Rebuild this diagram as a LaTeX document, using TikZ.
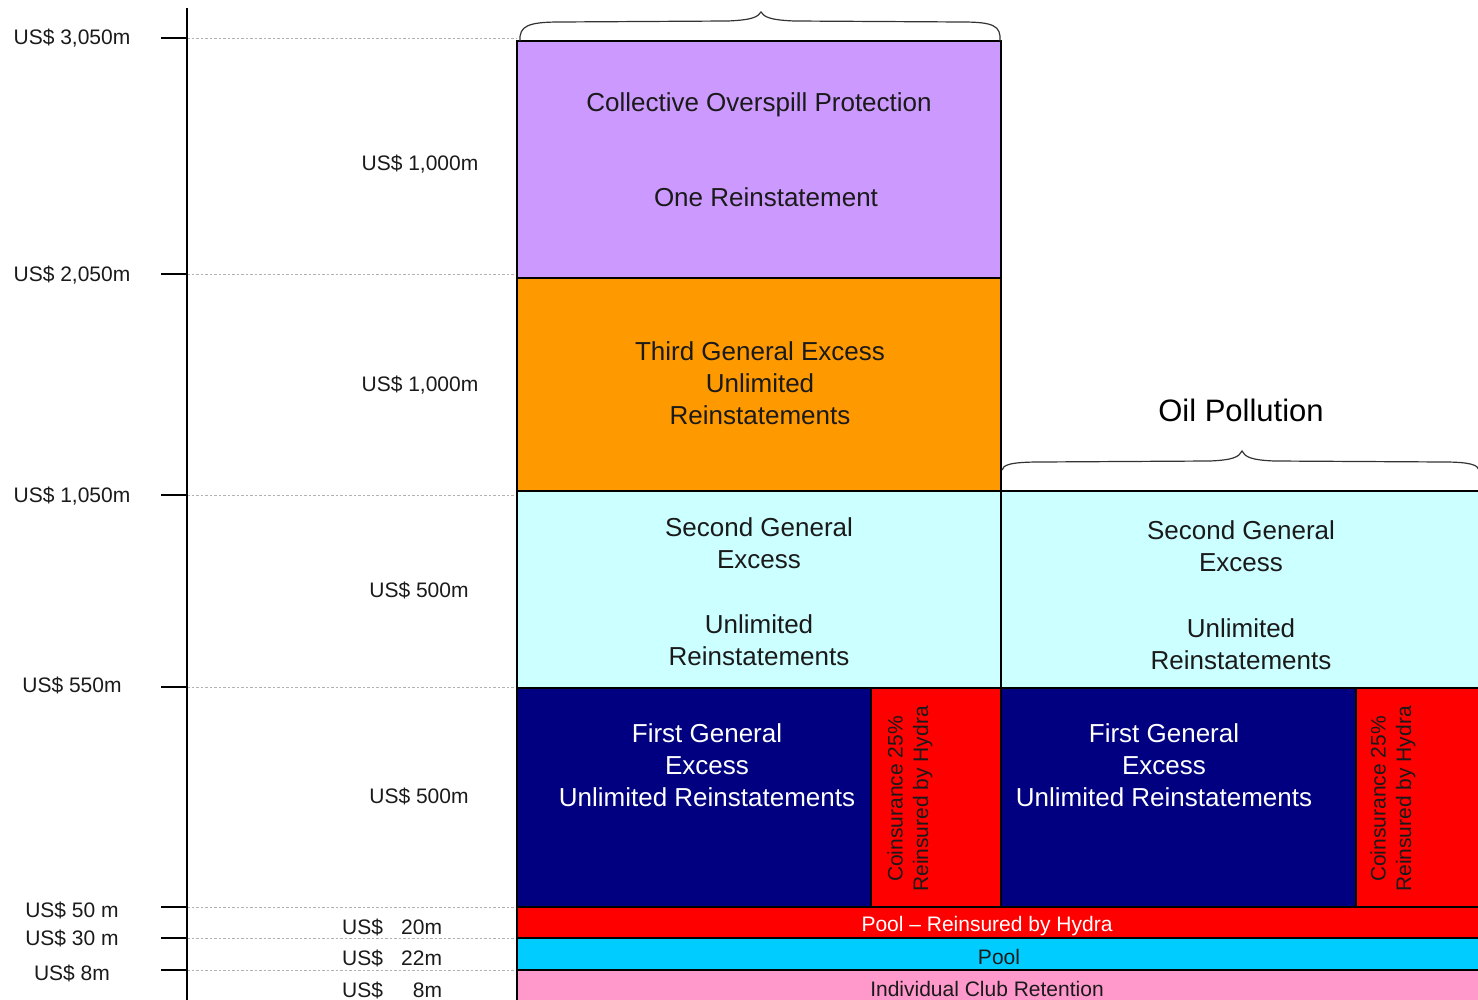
\documentclass[tikz,border=0pt]{standalone}
\usepackage{fontspec}
\setmainfont{Liberation Sans}
\definecolor{cpurple}{HTML}{CC99FF}
\definecolor{corange}{HTML}{FF9900}
\definecolor{ccyan}{HTML}{CCFFFF}
\definecolor{cnavy}{HTML}{000080}
\definecolor{cred}{HTML}{FF0000}
\definecolor{csky}{HTML}{00CCFF}
\definecolor{cpink}{HTML}{FF99CC}
\definecolor{ctext}{HTML}{1A1A1A}
\begin{document}
\begin{tikzpicture}[x=1pt,y=-1pt,
  layer/.style={draw=black, line width=2pt},
  lbl/.style={font=\fontsize{21}{25}\selectfont, text=ctext, inner sep=0pt},
  big/.style={font=\fontsize{26}{32}\selectfont, align=center, text=ctext, inner sep=0pt},
  rot/.style={font=\fontsize{21}{25.5}\selectfont, align=center, rotate=90, text=ctext, inner sep=0pt},
  bar/.style={font=\fontsize{21}{25}\selectfont, inner sep=0pt},
  tickmark/.style={line width=2pt},
  guide/.style={black!30, dash pattern=on 2.5pt off 2pt, line width=0.8pt},
  bracepath/.style={draw=black!80, line width=1.2pt}
]
\useasboundingbox (0,0) rectangle (1478,1000);

% guide lines
\foreach \yy in {38,274,495,687,907,938,970}{
  \draw[guide] (187,\yy) -- (517,\yy);
  \draw[tickmark] (161,\yy) -- (187,\yy);
}
% axis
\coordinate (axtop) at (187,8);
\coordinate (axbot) at (187,1000);
\draw[line width=2pt] (axtop) -- (axbot);

% layers
\filldraw[layer, fill=cpurple] (517,41) rectangle (1001,278);
\filldraw[layer, fill=corange] (517,278) rectangle (1001,491);
\filldraw[layer, fill=ccyan] (517,491) rectangle (1001,688);
\filldraw[layer, fill=ccyan] (1001,491) rectangle (1479,688);
\filldraw[layer, fill=cnavy] (517,688) rectangle (871,907);
\filldraw[layer, fill=cred] (871,688) rectangle (1001,907);
\filldraw[layer, fill=cnavy] (1001,688) rectangle (1356,907);
\filldraw[layer, fill=cred] (1356,688) rectangle (1479,907);
\filldraw[layer, fill=cred] (517,907) rectangle (1479,938);
\filldraw[layer, fill=csky] (517,938) rectangle (1479,970);
\filldraw[layer, fill=cpink] (517,970) rectangle (1479,1002);

% braces
\draw[bracepath] (520,41) .. controls (519,26) and (528,22) .. (560,22)
  -- (728,21) .. controls (752,20) and (758,17) .. (761,12)
  .. controls (764,17) and (770,20) .. (794,21)
  -- (962,22) .. controls (994,22) and (1001,26) .. (1000,41);
\draw[bracepath] (1002,470) .. controls (1003,465) and (1010,462) .. (1040,462)
  -- (1210,461) .. controls (1233,460) and (1239,457) .. (1242,451)
  .. controls (1245,457) and (1251,460) .. (1274,461)
  -- (1444,462) .. controls (1470,462) and (1478,465) .. (1479,470);

% left axis labels
\node[lbl] (l3050) at (72,38) {US\$ 3,050m};
\node[lbl] (l2050) at (72,275) {US\$ 2,050m};
\node[lbl] (l1050) at (72,496) {US\$ 1,050m};
\node[lbl] (l550) at (72,685) {US\$ 550m};
\node[lbl] (l50) at (72,910) {US\$ 50 m};
\node[lbl] (l30) at (72,938) {US\$ 30 m};
\node[lbl] (l8) at (72,973) {US\$ 8m};

% layer size labels
\node[lbl] (s1) at (420,164) {US\$ 1,000m};
\node[lbl] (s2) at (420,385) {US\$ 1,000m};
\node[lbl] (s3) at (419,590) {US\$ 500m};
\node[lbl] (s4) at (419,796) {US\$ 500m};
\node[lbl, anchor=west] (s5) at (342,927) {US\$\makebox[59pt][r]{20m}};
\node[lbl, anchor=west] (s6) at (342,958) {US\$\makebox[59pt][r]{22m}};
\node[lbl, anchor=west] (s7) at (342,990) {US\$\makebox[59pt][r]{8m}};

% box texts
\node[big] (cop) at (759,105) {Collective Overspill Protection};
\node[big] (one) at (766,197) {One Reinstatement};
\node[big] (third) at (760,383) {Third General Excess\\Unlimited\\Reinstatements};
\node[big] (sgA) at (759,543) {Second General\\Excess};
\node[big] (sgB) at (759,640) {Unlimited\\Reinstatements};
\node[big] (sgC) at (1241,546) {Second General\\Excess};
\node[big] (sgD) at (1241,644) {Unlimited\\Reinstatements};
\node[big, text=white] (fgA) at (707,765) {First General\\Excess\\Unlimited Reinstatements};
\node[big, text=white] (fgB) at (1164,765) {First General\\Excess\\Unlimited Reinstatements};
\node[rot] (coA) at (910,799) {Coinsurance 25\%\\Reinsured by Hydra};
\node[rot] (coB) at (1393,799) {Coinsurance 25\%\\Reinsured by Hydra};
\node[bar, text=white] (poolH) at (987,926) {Pool -- Reinsured by Hydra};
\node[bar, text=ctext] (pool) at (999,957) {Pool};
\node[bar, text=ctext] (icr) at (987,989) {Individual Club Retention};
\node[font=\fontsize{31}{36}\selectfont, text=black, inner sep=0pt] (oil) at (1241,410) {Oil Pollution};
\end{tikzpicture}
\end{document}
